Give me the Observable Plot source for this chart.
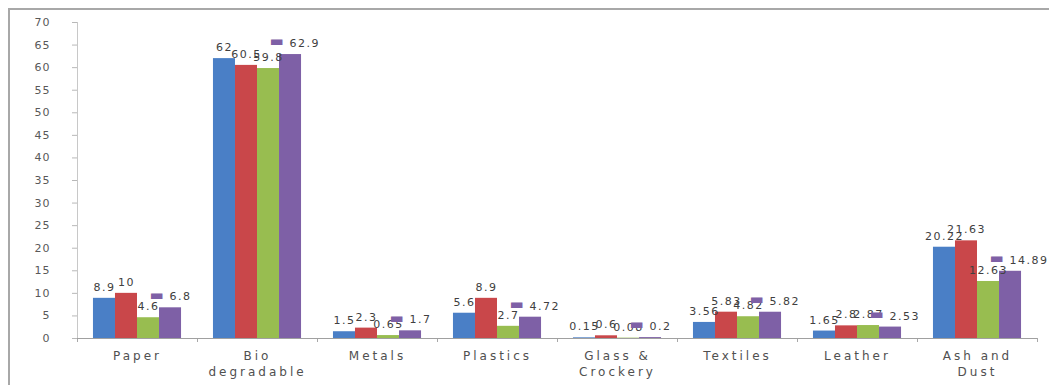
<!DOCTYPE html>
<html>
<head>
<meta charset="utf-8">
<script src="https://cdn.jsdelivr.net/npm/d3@7"></script>
<script src="https://cdn.jsdelivr.net/npm/@observablehq/plot@0.6"></script>
<style>
  html, body { margin: 0; padding: 0; background: #fff; }
  #wrap { position: relative; width: 1049px; height: 385px; overflow: hidden; }
  #frame { position: absolute; left: 8px; top: 8px; width: 1060px; height: 400px;
           border-top: 2px solid #a8a8a8; border-left: 2px solid #a8a8a8; pointer-events: none; }
  svg g[aria-label="x-axis tick label"] text { letter-spacing: 3px; }
  svg g[aria-label="y-axis tick label"] text { letter-spacing: 1px; }
  svg g.vlabels text { letter-spacing: 1.5px; }
</style>
</head>
<body>
<div id="wrap"><div id="chart"></div><div id="frame"></div></div>
<script>
const categories = ["Paper", "Bio\ndegradable", "Metals", "Plastics", "Glass &\nCrockery", "Textiles", "Leather", "Ash and\nDust"];
const seriesNames = ["Series 1", "Series 2", "Series 3", "Series 4"];
const series1 = [8.9, 62, 1.5, 5.6, 0.15, 3.56, 1.65, 20.22];
const series2 = [10, 60.5, 2.3, 8.9, 0.6, 5.83, 2.8, 21.63];
const series3 = [4.6, 59.8, 0.65, 2.7, 0.08, 4.82, 2.87, 12.63];
const series4 = [6.8, 62.9, 1.7, 4.72, 0.2, 5.82, 2.53, 14.89];
const yTicks = [0, 5, 10, 15, 20, 25, 30, 35, 40, 45, 50, 55, 60, 65, 70];
const colors = ["#4a7fc6", "#c9474a", "#98bd50", "#7e60a6"];

const allSeries = [series1, series2, series3, series4];
const rows = categories.flatMap((c, ci) =>
  allSeries.map((vals, si) => ({ci, si, series: seriesNames[si], value: vals[ci]})));

const groupInset = 0.133;
const barW = (1 - 2 * groupInset) / allSeries.length;
const xLeft = d => d.ci + groupInset + d.si * barW;
const xMid = d => d.ci + groupInset + (d.si + 0.5) * barW;

const plainRows = rows.filter(d => d.si < 3);
const keyRows = rows.filter(d => d.si === 3);

const chart = Plot.plot({
  width: 1049,
  height: 385,
  marginLeft: 77,
  marginRight: 12,
  marginTop: 22,
  marginBottom: 47,
  style: {fontFamily: "DejaVu Sans", fontSize: "11px", background: "transparent"},
  x: {type: "linear", domain: [0, categories.length], label: null},
  y: {domain: [0, 70], label: null},
  color: {domain: seriesNames, range: colors},
  marks: [
    Plot.axisY({ticks: yTicks, tickSize: 5, tickPadding: 22, stroke: "#b8b8b8", fill: "#595959", fontSize: 11, label: null}),
    Plot.ruleX([0], {stroke: "#c8c8c8"}),
    Plot.axisX({ticks: d3.range(0, categories.length + 1), tickSize: 4, tickFormat: () => "", stroke: "#a8a8a8", label: null}),
    Plot.axisX({ticks: d3.range(categories.length).map(i => i + 0.5), tickSize: 0, tickPadding: 10,
      tickFormat: v => categories[Math.floor(v)], fill: "#505050", fontSize: 12, lineHeight: 1.33, label: null}),
    Plot.rectY(rows, {x1: xLeft, x2: d => xLeft(d) + barW, y: "value", fill: "series"}),
    Plot.ruleY([0], {stroke: "#a0a0a0"}),
    Plot.text(plainRows, {x: xMid, y: "value", text: d => String(d.value), dy: -11,
      fill: "#404040", fontSize: 11, className: "vlabels"}),
    Plot.text(keyRows, {x: xMid, y: "value", text: d => String(d.value), dy: -11, dx: -1,
      textAnchor: "start", fill: "#404040", fontSize: 11, className: "vlabels"}),
    Plot.text(keyRows, {x: xMid, y: "value", text: () => "▬", dy: -13, dx: -14,
      fill: colors[3], fontSize: 15})
  ]
});
document.getElementById("chart").appendChild(chart);
</script>
</body>
</html>
